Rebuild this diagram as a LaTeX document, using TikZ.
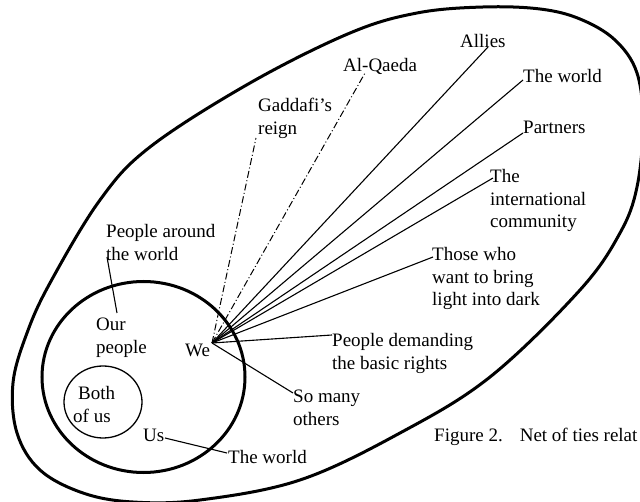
\documentclass[tikz,border=0pt]{standalone}
\usepackage{fontspec}
\setmainfont{Liberation Serif}
\begin{document}
\begin{tikzpicture}[x=1pt,y=-1pt,
  lbl/.style={font=\fontsize{19}{22.5}\selectfont, inner sep=0pt, anchor=base west, align=left},
  ring/.style={line width=3pt},
  thinring/.style={line width=1.3pt},
  tie/.style={line width=1.1pt},
  foe/.style={line width=1pt, dash pattern=on 7pt off 2.5pt on 1pt off 2.5pt},
]
\useasboundingbox (0,0) rectangle (640,502);
\clip (0,0) rectangle (640,502);

% outer egg-shaped region
\draw[ring] plot[smooth cycle, tension=0.6] coordinates {
  (13,383) (27,333) (50,283) (100,200) (150,147) (250,83) (350,33)
  (417,13) (483,7) (540,9) (580,19) (615,40) (637,73) (643,125)
  (637,187) (620,233) (580,290) (490,377) (400,433) (300,480)
  (200,500) (133,502) (83,493) (40,470) (17,433)};

% middle and inner circles
\draw[ring] (143.5,377) ellipse [x radius=101.5pt, y radius=95.5pt];
\draw[thinring] (103,402) ellipse [x radius=39pt, y radius=36pt];

% labels (multi-line nodes are placed by the baseline of their last line)
\node[lbl] (allies) at (460,48) {Allies};
\node[lbl] (world1) at (523,83) {The world};
\node[lbl] (partners) at (523,134) {Partners};
\node[lbl] (intl) at (490,228) {The\\international\\community};
\node[lbl] (light) at (432,306) {Those who\\want to bring\\light into dark};
\node[lbl] (rights) at (332,369.5) {People demanding\\the basic rights};
\node[lbl] (others) at (293,425.5) {So many\\others};
\node[lbl] (we) at (185,357) {We};
\node[lbl] (qaeda) at (343,72) {Al-Qaeda};
\node[lbl] (gaddafi) at (258,134.5) {Gaddafi’s\\reign};
\node[lbl] (around) at (106,260.5) {People around\\the world};
\node[lbl] (ours) at (96,353.5) {Our\\people};
\node[lbl] (both) at (73,422.5) {\hspace{5pt}Both\\of us};
\node[lbl] (us) at (143,442) {Us};
\node[lbl] (world2) at (228,463) {The world};
\node[lbl] (caption) at (434,442) {Figure 2.\hspace{17pt}Net of ties relat};

% connector ends
\coordinate (hub) at (212,343);
\coordinate (eAllies) at (488,47);
\coordinate (eWorld1) at (523,80);
\coordinate (ePartners) at (523,133);
\coordinate (eIntl) at (493,178);
\coordinate (eLight) at (433,257);
\coordinate (eRights) at (332,335);
\coordinate (eOthers) at (293,393);
\coordinate (eQaeda) at (365,73);
\coordinate (eGaddafi) at (256,138);
\coordinate (eUs) at (165,438);
\coordinate (eWorld2) at (227,453);
\coordinate (eOurs) at (117,313);
\coordinate (eAround) at (107,257);

% ties
\draw[tie] (hub) -- (eAllies);
\draw[tie] (hub) -- (eWorld1);
\draw[tie] (hub) -- (ePartners);
\draw[tie] (hub) -- (eIntl);
\draw[tie] (hub) -- (eLight);
\draw[tie] (hub) -- (eRights);
\draw[tie] (hub) -- (eOthers);
\draw[foe] (hub) -- (eQaeda);
\draw[foe] (hub) -- (eGaddafi);
\draw[tie] (eUs) -- (eWorld2);
\draw[tie] (eOurs) -- (eAround);
\end{tikzpicture}
\end{document}
